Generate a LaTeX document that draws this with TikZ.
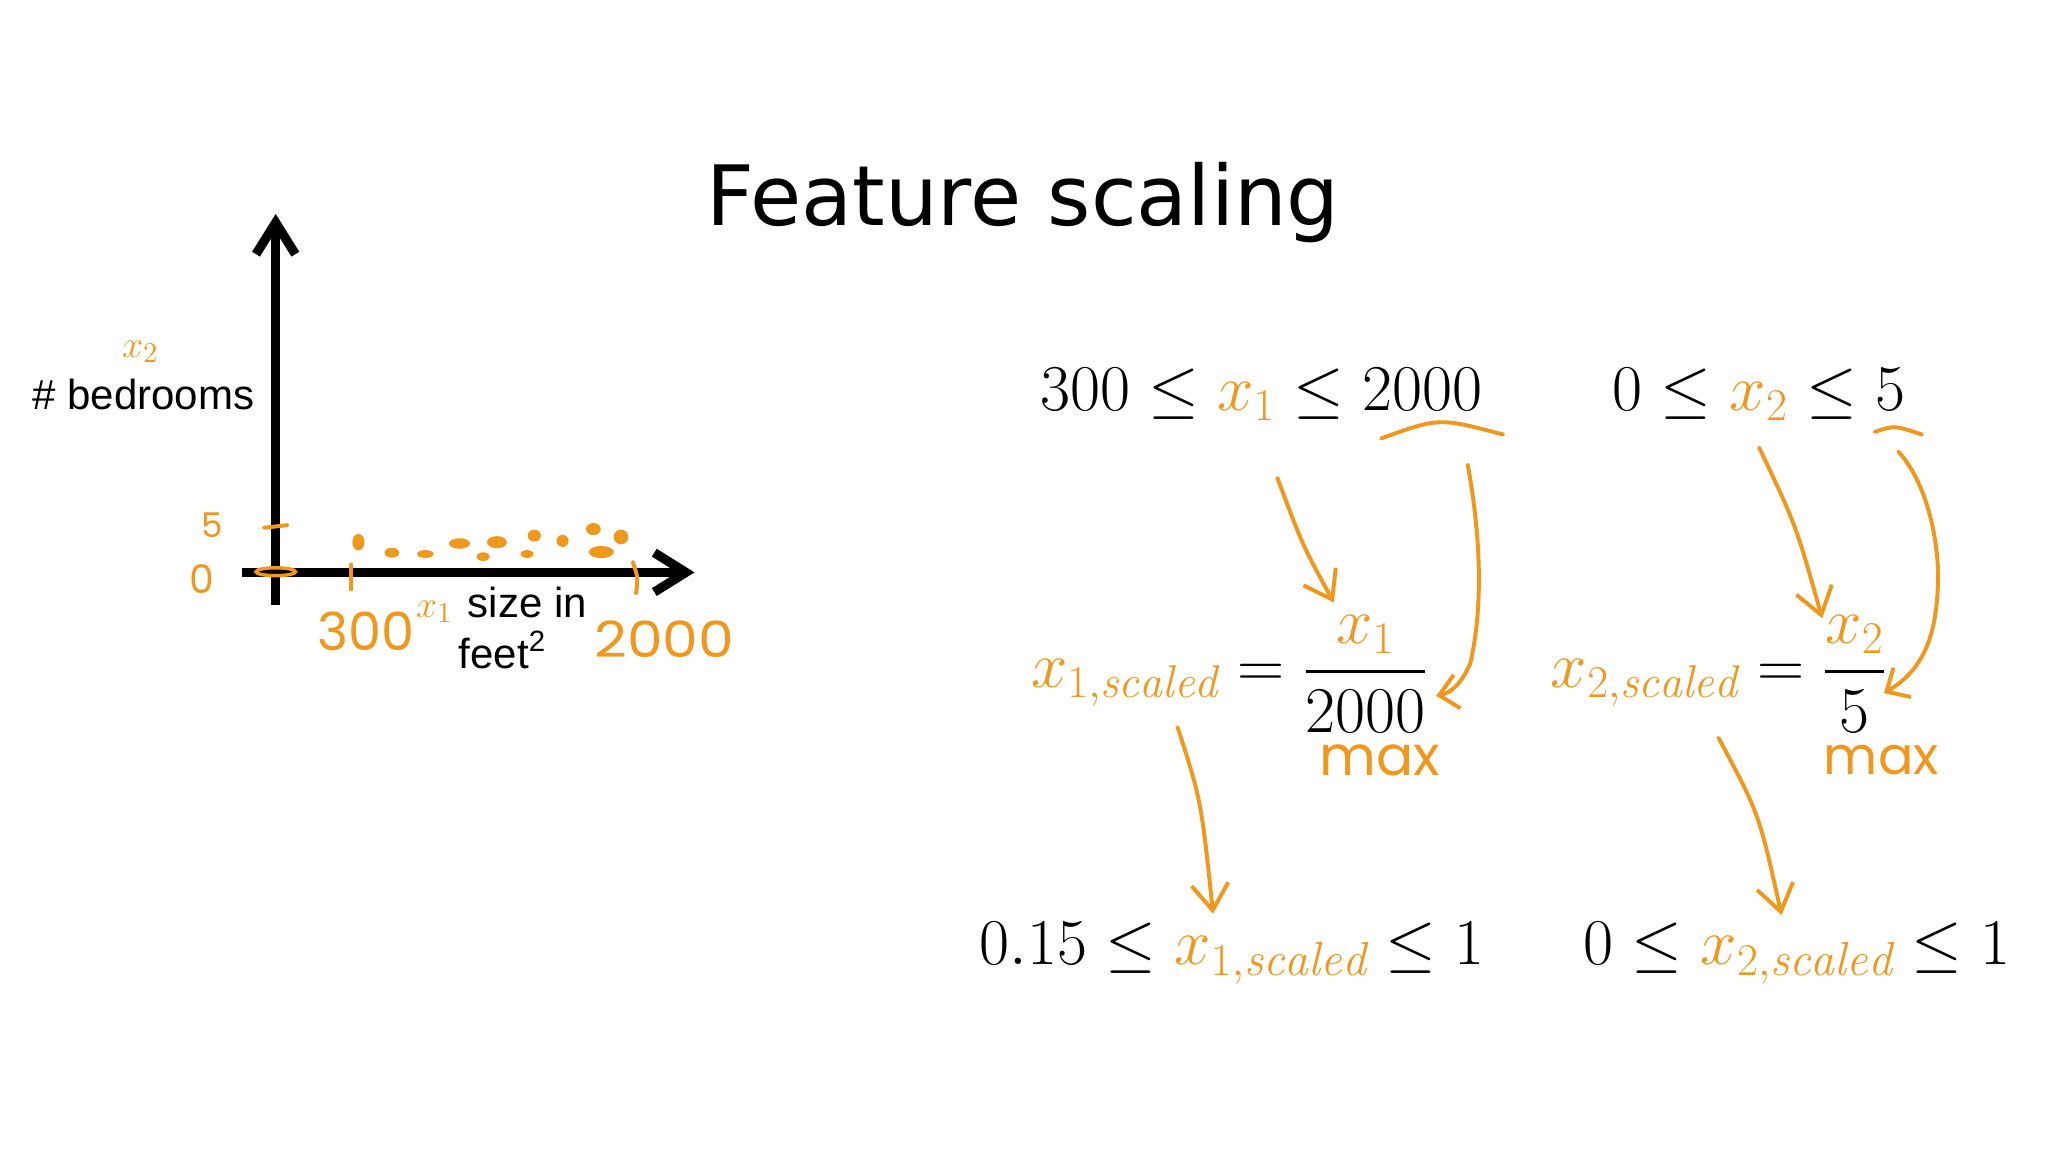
\documentclass[tikz,border=0pt]{standalone}
\usepackage{amsmath}
\usepackage{fontspec}
\usepackage{graphicx}
\newfontfamily\titlefont{DejaVu Sans}
\newfontfamily\armfont{Liberation Sans}
\newfontfamily\handfont{Poppins}
\usetikzlibrary{arrows.meta}
\definecolor{ora}{RGB}{240,152,30}
\begin{document}
\begin{tikzpicture}[x=0.5pt,y=-0.5pt,
  axis/.style={line width=3.5pt,-{Straight Barb[length=12pt,width=15pt]}},
  orline/.style={draw=ora,line width=1.5pt,line cap=round},
  harrow/.style={orline,-{Straight Barb[length=10pt,width=14pt]}},
  hookarrow/.style={orline,-{Straight Barb[length=7pt,width=13pt]}},
  hand/.style={text=ora,font=\handfont\fontsize{#1}{#1}\selectfont,inner sep=0pt},
  lab/.style={font=\armfont\fontsize{16}{19}\selectfont,inner sep=0pt},
  eq/.style={font=\fontsize{25}{30}\selectfont,inner sep=0pt,anchor=base west},
  eqbig/.style={eq,font=\fontsize{26}{31}\selectfont},
  olab/.style={text=ora,font=\fontsize{15}{18}\selectfont,inner sep=0pt}]
\fill[white] (0,0) rectangle (1560,877.5);
\useasboundingbox (0,0) rectangle (1560,877.5);

% title
\node[anchor=base west,inner sep=0pt,font=\titlefont\fontsize{31.7}{38}\selectfont] (title) at (538,172) {Feature scaling};

% axes
\coordinate (yb) at (210,461);
\coordinate (yt) at (210,163);
\coordinate (xl) at (184,436);
\coordinate (xr) at (529,436);
\draw[axis] (yb) -- (yt);
\draw[axis] (xl) -- (xr);

% axis labels
\node[lab,anchor=base east] (ylab) at (194,312) {\# bedrooms};
\node[olab] (x2lab) at (107,268) {$x_2$};
\node[olab] (x1lab) at (331,466) {$x_1$};
\node[lab,anchor=base west] (size) at (356,470) {size in};
\node[lab,anchor=base west] (feet) at (349,509) {feet\textsuperscript{2}};

% orange ticks and numbers
\node[hand=13] (five) at (162,400) {5};
\node[hand=15] (zero) at (154,441) {0};
\draw[orline] (201,402) -- (219,400);
\draw[draw=ora,line width=1.3pt] (210,435.5) ellipse [x radius=15, y radius=3];
\draw[orline] (267.5,430) -- (267.5,449);
\draw[orline] (482,428) .. controls (486,440) .. (484.5,452);
\node[hand=20] (n300) at (279,481) {300};
\node[hand=19] (n2000) at (506,487) {\scalebox{1.14}[1]{2000}};

% data points
\fill[ora] (273,413) ellipse [x radius=4.6, y radius=6.3];
\fill[ora] (298.5,421) ellipse [x radius=5.6, y radius=3.8];
\fill[ora] (324,422) ellipse [x radius=6.3, y radius=3];
\fill[ora] (350,414) ellipse [x radius=8, y radius=4];
\fill[ora] (378.5,413) ellipse [x radius=7.6, y radius=4.6];
\fill[ora] (368,424) ellipse [x radius=5, y radius=3.3];
\fill[ora] (407,408) ellipse [x radius=5, y radius=4.6];
\fill[ora] (401.5,422) ellipse [x radius=5, y radius=3];
\fill[ora] (428.5,412) ellipse [x radius=4.6, y radius=4.6];
\fill[ora] (452,403) ellipse [x radius=5.6, y radius=4.6];
\fill[ora] (458,420.5) ellipse [x radius=9.6, y radius=4.6];
\fill[ora] (473,409) ellipse [x radius=5.6, y radius=5.6];

% range equations
\node[eqbig] (eqA) at (792,313) {$300 \le {\color{ora}x_1} \le 2000$};
\node[eqbig] (eqB) at (1228,313) {$0 \le {\color{ora}x_2} \le 5$};
\draw[orline] (1052,334) .. controls (1096,318) .. (1145,331);
\draw[orline] (1428,329) .. controls (1443,324) .. (1464,331);

% scaling equations
\node[eq] (eqC) at (785,524) {${\color{ora}x_{1,\mathit{scaled}}} = \dfrac{{\color{ora}x_1}}{2000}$};
\node[eq] (eqD) at (1181,524) {${\color{ora}x_{2,\mathit{scaled}}} = \dfrac{{\color{ora}x_2}}{5}$};
\node[hand=21] (maxA) at (1051,579) {max};
\node[hand=20] (maxB) at (1433,579) {max};

% result equations
\node[eqbig] (eqE) at (746,735) {$0.15 \le {\color{ora}x_{1,\mathit{scaled}}} \le 1$};
\node[eqbig] (eqF) at (1206,735) {$0 \le {\color{ora}x_{2,\mathit{scaled}}} \le 1$};

% arrows
\coordinate (a1s) at (973,364);  \coordinate (a1e) at (1016,459);
\coordinate (a2s) at (1118,354); \coordinate (a2e) at (1094,530);
\coordinate (a3s) at (1340,341); \coordinate (a3e) at (1388,471);
\coordinate (a4s) at (1446,344); \coordinate (a4e) at (1435,528);
\coordinate (a5s) at (897,554);  \coordinate (a5e) at (924,696);
\coordinate (a6s) at (1309,562); \coordinate (a6e) at (1357,697);
\draw[harrow] (a1s) .. controls (992,415) .. (a1e);
\draw[hookarrow] (a2s) .. controls (1130,420) and (1128,470) .. (1120,505) .. controls (1113,522) and (1104,528) .. (a2e);
\draw[harrow] (a3s) .. controls (1368,400) .. (a3e);
\draw[hookarrow] (a4s) .. controls (1470,370) and (1478,420) .. (1476,449) .. controls (1474,490) and (1462,512) .. (a4e);
\draw[harrow] (a5s) .. controls (915,610) .. (a5e);
\draw[harrow] (a6s) .. controls (1340,620) .. (a6e);
\end{tikzpicture}
\end{document}
